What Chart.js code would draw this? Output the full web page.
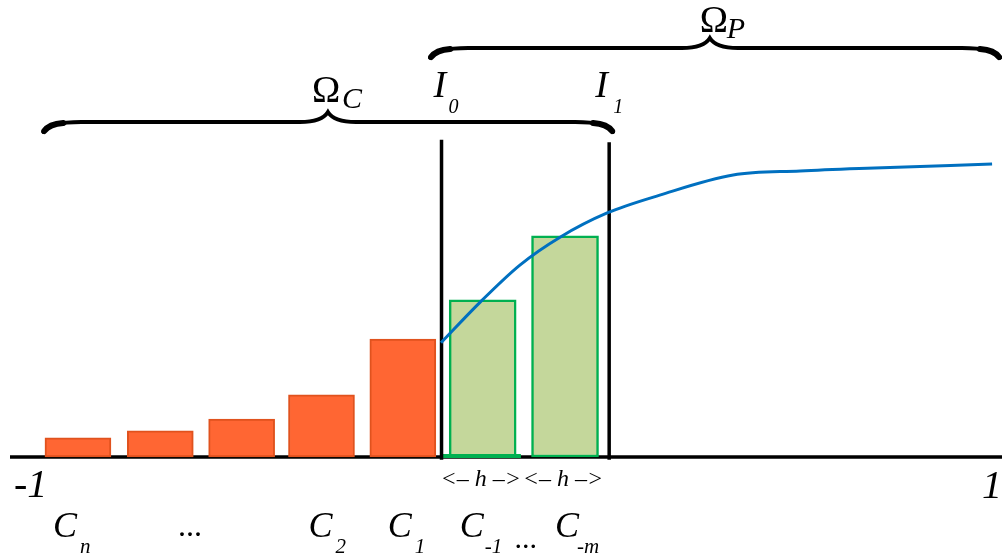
<!DOCTYPE html>
<html>
<head>
<meta charset="utf-8">
<script src="https://cdn.jsdelivr.net/npm/chart.js@4.4.1/dist/chart.umd.min.js"></script>
<style>
  html, body { margin: 0; padding: 0; background: #ffffff; }
  #wrap { width: 1002px; height: 556px; position: relative; }
</style>
</head>
<body>
<div id="wrap"><canvas id="chart"></canvas></div>
<script>
/* ===============================
   DATA (x in [-1, 1], y = cell value)
================================ */

const axisEnds = [-1, 1];
const axisTickLabels = ["-1", "1"];

const coarseX = [-0.863, -0.697, -0.533, -0.372, -0.208];
const coarseY = [0.042, 0.057, 0.083, 0.136, 0.258];

const fineX = [-0.047, 0.119];
const fineY = [0.344, 0.484];

const curveX = [-0.131, -0.052, 0.028, 0.109, 0.204, 0.310, 0.458, 0.593, 0.728, 0.980];
const curveY = [0.250, 0.339, 0.420, 0.481, 0.534, 0.573, 0.617, 0.626, 0.632, 0.641];

const interfaceX = [-0.130, 0.208];
const interfaceTop = [0.694, 0.689];
const interfaceLabels = ["0", "1"];

const pts = (xs, ys) => xs.map((x, i) => ({ x, y: ys[i] }));

/* ===============================
   ANNOTATIONS (braces, labels)
================================ */

function drawBrace(ctx, xa, xb, xm, yb) {
  ctx.save();
  ctx.strokeStyle = "#000";
  ctx.lineCap = "round";
  ctx.lineWidth = 3.8;
  ctx.beginPath();
  ctx.moveTo(xa, yb + 10);
  ctx.quadraticCurveTo(xa + 6, yb, xa + 38, yb);
  ctx.lineTo(xm - 28, yb);
  ctx.quadraticCurveTo(xm - 6, yb, xm, yb - 10);
  ctx.quadraticCurveTo(xm + 6, yb, xm + 28, yb);
  ctx.lineTo(xb - 38, yb);
  ctx.quadraticCurveTo(xb - 6, yb, xb, yb + 10);
  ctx.stroke();
  // thick hooks
  ctx.lineWidth = 6;
  ctx.beginPath();
  ctx.moveTo(xa + 1, yb + 9);
  ctx.quadraticCurveTo(xa + 6, yb + 2, xa + 20, yb + 1);
  ctx.moveTo(xb - 1, yb + 9);
  ctx.quadraticCurveTo(xb - 6, yb + 2, xb - 20, yb + 1);
  ctx.stroke();
  ctx.restore();
}

function text(ctx, s, x, y, size, italic, align) {
  ctx.font = (italic ? "italic " : "") + size + "px 'Liberation Serif', 'DejaVu Serif', serif";
  ctx.textAlign = align || "left";
  ctx.textBaseline = "alphabetic";
  ctx.fillText(s, x, y);
}

const annotations = {
  id: "annotations",
  afterDatasetsDraw(chart) {
    const ctx = chart.ctx;
    const X = chart.scales.x;
    const Y = chart.scales.y;
    ctx.save();
    ctx.fillStyle = "#000";

    // braces
    drawBrace(ctx, X.getPixelForValue(-0.933), X.getPixelForValue(0.216), X.getPixelForValue(-0.359), Y.getPixelForValue(0.733));
    drawBrace(ctx, X.getPixelForValue(-0.153), X.getPixelForValue(0.996), X.getPixelForValue(0.411), Y.getPixelForValue(0.895));

    const oc = X.getPixelForValue(-0.359);
    text(ctx, "Ω", oc - 16, 102, 38, false);
    text(ctx, "C", oc + 14, 108, 30, true);
    const op = X.getPixelForValue(0.411);
    text(ctx, "Ω", op - 10, 32, 38, false);
    text(ctx, "P", op + 17, 38, 30, true);

    // interface labels
    interfaceX.forEach((v, i) => {
      const px = X.getPixelForValue(v);
      text(ctx, "I", px - 8 - i * 6, 97, 38, true);
      text(ctx, interfaceLabels[i], px + 7 - i * 3, 113, 20, true);
    });

    // axis ends
    text(ctx, axisTickLabels[0], 14, 497, 40, true);
    text(ctx, axisTickLabels[1], 1002, 498, 40, true, "right");

    // h arrows under fine cells
    fineX.forEach(v => {
      text(ctx, "<– h –>", X.getPixelForValue(v) - 2, 486, 24, true, "center");
    });

    // cell labels
    const subs = ["n", null, "2", "1"];
    const offs = [-25, null, -13, -15];
    [coarseX[0], coarseX[1] + 0.06, coarseX[3], coarseX[4]].forEach((v, i) => {
      const c = X.getPixelForValue(v);
      if (subs[i] === null) {
        text(ctx, "...", c, 536, 32, false, "center");
        return;
      }
      text(ctx, "C", c + offs[i], 537, 36, true);
      text(ctx, subs[i], c + offs[i] + 27, 553, 21, true);
    });
    const f0 = X.getPixelForValue(fineX[0]);
    text(ctx, "C", f0 - 23, 537, 36, true);
    text(ctx, "-1", f0 + 2, 553, 21, true);
    text(ctx, "...", X.getPixelForValue((fineX[0] + fineX[1]) / 2) + 2, 548, 30, false, "center");
    const f1 = X.getPixelForValue(fineX[1]);
    text(ctx, "C", f1 - 10, 537, 36, true);
    text(ctx, "-m", f1 + 12, 553, 21, true);

    ctx.restore();
  }
};

/* ===============================
   CHART
================================ */

new Chart(document.getElementById("chart"), {
  type: "bar",
  data: {
    datasets: [
      {
        type: "line",
        data: pts(curveX, curveY),
        borderColor: "#0070C0",
        borderWidth: 3,
        pointRadius: 0,
        cubicInterpolationMode: "monotone",
        clip: false,
        order: 0
      },
      ...interfaceX.map((v, i) => ({
        type: "line",
        data: [{ x: v, y: -0.006 }, { x: v, y: interfaceTop[i] }],
        borderColor: "#000",
        borderWidth: 3.5,
        pointRadius: 0,
        clip: false,
        order: 1
      })),
      {
        type: "line",
        data: [{ x: curveX[0], y: 0.002 }, { x: 0.03, y: 0.002 }],
        borderColor: "#00B050",
        borderWidth: 4,
        pointRadius: 0,
        clip: false,
        order: 2
      },
      {
        data: pts(coarseX, coarseY),
        backgroundColor: "#FF6633",
        borderColor: "#E0521E",
        borderWidth: 2,
        borderSkipped: false,
        barThickness: 66,
        grouped: false,
        clip: false,
        order: 3
      },
      {
        data: pts(fineX, fineY),
        backgroundColor: "#C4D79B",
        borderColor: "#00B050",
        borderWidth: 2.5,
        borderSkipped: false,
        barThickness: 67,
        grouped: false,
        clip: false,
        order: 3
      },
      {
        type: "line",
        data: [{ x: axisEnds[0], y: 0 }, { x: axisEnds[1], y: 0 }],
        borderColor: "#000",
        borderWidth: 3.5,
        pointRadius: 0,
        clip: false,
        order: 5
      }
    ]
  },
  options: {
    responsive: true,
    maintainAspectRatio: false,
    animation: false,
    layout: { padding: { left: 10, right: 0, top: 0, bottom: 99 } },
    plugins: { legend: { display: false }, tooltip: { enabled: false } },
    scales: {
      x: { type: "linear", min: -1, max: 1, offset: false, display: false },
      y: { min: 0, max: 1, display: false }
    }
  },
  plugins: [annotations]
});
</script>
</body>
</html>
